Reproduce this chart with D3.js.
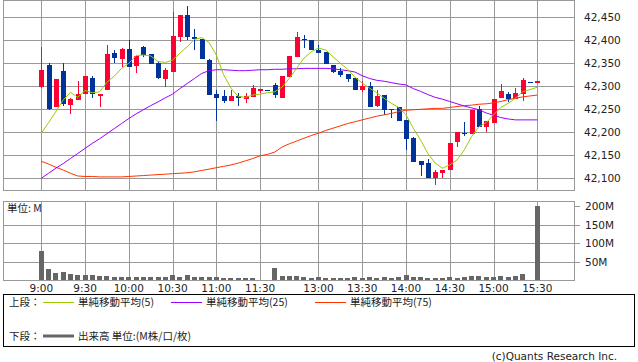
<!DOCTYPE html>
<html><head><meta charset="utf-8">
<script src="https://cdn.jsdelivr.net/npm/d3@7"></script>
<style>
html,body{margin:0;padding:0;background:#fff;}
svg{display:block;}
text{font-family:"DejaVu Sans",sans-serif;fill:#222;}
.jp{font-family:"Noto Sans CJK JP","DejaVu Sans",sans-serif;}
</style></head>
<body><svg id="c" width="638" height="362"></svg>
<script>
const times = ["9:00","9:05","9:10","9:15","9:20","9:25","9:30","9:35","9:40","9:45","9:50","9:55",
"10:00","10:05","10:10","10:15","10:20","10:25","10:30","10:35","10:40","10:45","10:50","10:55",
"11:00","11:05","11:10","11:15","11:20","11:25","11:30","12:25",
"12:30","12:35","12:40","12:45","12:50","12:55",
"13:00","13:05","13:10","13:15","13:20","13:25","13:30","13:35","13:40","13:45","13:50","13:55",
"14:00","14:05","14:10","14:15","14:20","14:25","14:30","14:35","14:40","14:45","14:50","14:55",
"15:00","15:05","15:10","15:15","15:20","15:25","15:30"];
const open = [42298,42346,42256,42333,42260,42271,42284,42317,42279,42291,42373,42359,42381,42344,42386,42370,42350,42316,42332,42408,42455,42407,42402,42357,42283,42279,42269,42278,42272,42277,42290,42293,42302,42275,42321,42364,42403,42401,42379,42375,42346,42333,42327,42318,42291,42301,42257,42281,42251,42254,42227,42188,42137,42133,42101,42112,42117,42178,42199,42197,42250,42212,42221,42275,42283,42272,42283,42310,42308];
const high = [42386,42351,42316,42351,42275,42312,42322,42322,42283,42390,42378,42383,42401,42366,42387,42370,42352,42339,42462,42455,42475,42425,42403,42359,42292,42293,42291,42286,42285,42302,42294,42293,42307,42322,42366,42418,42412,42401,42389,42375,42346,42339,42327,42318,42312,42309,42293,42281,42251,42256,42227,42190,42137,42141,42117,42117,42176,42200,42222,42249,42257,42225,42273,42305,42288,42296,42317,42310,42312];
const low = [42297,42249,42255,42257,42240,42271,42284,42275,42254,42291,42350,42343,42343,42330,42363,42349,42316,42299,42331,42397,42401,42379,42360,42282,42225,42264,42269,42257,42264,42277,42285,42293,42275,42275,42321,42364,42384,42378,42372,42348,42328,42320,42309,42292,42288,42255,42254,42237,42232,42225,42162,42135,42106,42101,42085,42100,42117,42169,42193,42197,42212,42201,42221,42275,42265,42272,42267,42310,42308];
const close = [42335,42250,42316,42262,42272,42283,42322,42283,42283,42370,42362,42381,42343,42366,42367,42349,42318,42336,42409,42455,42408,42404,42360,42282,42275,42267,42278,42274,42280,42296,42294,42293,42281,42322,42366,42407,42400,42380,42373,42348,42331,42325,42316,42292,42301,42255,42280,42249,42250,42225,42186,42136,42130,42101,42113,42117,42176,42200,42197,42249,42212,42225,42272,42290,42272,42286,42314,42310,42312];
const ma5 = [42198,42221,42245,42270,42287,42276,42291,42286,42288,42309,42322,42339,42350,42367,42368,42366,42354,42352,42357,42372,42386,42402,42406,42395,42368,42325,42296,42278,42276,42281,42283,42286,42288,42298,42317,42339,42361,42375,42383,42379,42364,42350,42337,42320,42307,42296,42286,42274,42263,42254,42238,42209,42183,42154,42133,42122,42129,42140,42162,42191,42212,42221,42238,42254,42263,42274,42288,42293,42298];
const ma25 = [42100,42111,42122,42132,42143,42154,42165,42176,42186,42197,42208,42219,42230,42240,42249,42258,42266,42275,42283,42295,42306,42317,42328,42334,42336,42336,42335,42334,42334,42335,42336,42336,42337,42337,42338,42338,42339,42339,42339,42339,42338,42336,42334,42331,42323,42317,42313,42311,42308,42305,42303,42295,42289,42282,42276,42272,42267,42262,42257,42253,42249,42242,42237,42232,42229,42227,42227,42227,42227];
const ma75 = [42137,42131,42124,42118,42111,42105,42104,42104,42103,42103,42103,42103,42104,42105,42106,42107,42108,42109,42110,42111,42112,42114,42117,42120,42123,42126,42129,42133,42138,42143,42149,42152,42157,42168,42175,42181,42187,42193,42198,42204,42209,42214,42219,42223,42227,42231,42235,42238,42241,42245,42248,42249,42250,42251,42252,42252,42254,42256,42258,42259,42261,42262,42264,42267,42271,42274,42277,42279,42281];
const volume = [78,30,19,22,16,14,14,14,11,11,8,8,8,8,8,8,8,8,14,8,14,8,8,8,8,5.5,5.5,5.5,5.5,5.5,1.5,0,32,11,11,11,8,5.5,8,5.5,5.5,5.5,5.5,8,5.5,8,5.5,8,5.5,8,14,8,8,5.5,5.5,5.5,8,5.5,8,11,11,8,8,11,8,11,18,1,200];
const timeTicks = ["9:00","9:30","10:00","10:30","11:00","11:30","13:00","13:30","14:00","14:30","15:00","15:30"];
const priceTicks = [42100,42150,42200,42250,42300,42350,42400,42450];
const volTicks = [50,100,150,200];
const legendItems = [
  {label:"単純移動平均(5)", color:"#99cc00"},
  {label:"単純移動平均(25)", color:"#9900ff"},
  {label:"単純移動平均(75)", color:"#ff3300"}
];

const svg = d3.select("#c");
const UP = "#ff0033", DOWN = "#003399", GRID = "#999999";

const x = d3.scalePoint().domain(times).range([41.3, 537.3]);
const y = d3.scaleLinear().domain([42100, 42450]).range([178.3, 17.3]);
const yv = d3.scaleLinear().domain([0, 200]).range([280.2, 206.2]);

const P = {left:3.5, right:574.5, top:0.5, bottom:190.5};
const V = {top:201.5, bottom:280.5};

// price grid
const g = svg.append("g").attr("shape-rendering","crispEdges");
g.selectAll(".hg").data(priceTicks).join("line")
  .attr("x1",P.left).attr("x2",P.right)
  .attr("y1",d=>Math.round(y(d))+0.5).attr("y2",d=>Math.round(y(d))+0.5)
  .attr("stroke",GRID);
g.selectAll(".vg").data(timeTicks).join("line")
  .attr("x1",d=>Math.round(x(d))+0.5).attr("x2",d=>Math.round(x(d))+0.5)
  .attr("y1",P.top).attr("y2",P.bottom).attr("stroke",GRID);
g.append("rect").attr("x",P.left).attr("y",P.top).attr("width",P.right-P.left).attr("height",P.bottom-P.top)
  .attr("fill","none").attr("stroke",GRID);

// volume grid
g.selectAll(".vhg").data(volTicks.filter(d=>d<200)).join("line")
  .attr("x1",P.left).attr("x2",P.right)
  .attr("y1",d=>Math.round(yv(d))+0.5).attr("y2",d=>Math.round(yv(d))+0.5)
  .attr("stroke",GRID);
g.selectAll(".vvg").data(timeTicks).join("line")
  .attr("x1",d=>Math.round(x(d))+0.5).attr("x2",d=>Math.round(x(d))+0.5)
  .attr("y1",V.top).attr("y2",V.bottom).attr("stroke",GRID);
g.selectAll(".vtk").data(volTicks).join("line")
  .attr("x1",P.right).attr("x2",P.right+5)
  .attr("y1",d=>Math.round(yv(d))+0.5).attr("y2",d=>Math.round(yv(d))+0.5)
  .attr("stroke",GRID);
g.append("rect").attr("x",P.left).attr("y",V.top).attr("width",P.right-P.left).attr("height",V.bottom-V.top)
  .attr("fill","none").attr("stroke",GRID);

// volume bars
svg.append("g").attr("shape-rendering","crispEdges").selectAll("rect").data(times).join("rect")
  .attr("x",d=>Math.round(x(d)-2.5)).attr("width",5)
  .attr("y",(d,i)=>yv(volume[i])).attr("height",(d,i)=>yv(0)-yv(volume[i]))
  .attr("fill","#666666");

// candles
const cg = svg.append("g").attr("shape-rendering","crispEdges");
const idx = d3.range(times.length);
const col = i => close[i] > open[i] ? UP : DOWN;
cg.selectAll(".wick").data(idx).join("line")
  .attr("x1",i=>Math.round(x(times[i]))+0.5).attr("x2",i=>Math.round(x(times[i]))+0.5)
  .attr("y1",i=>y(high[i])).attr("y2",i=>y(low[i])).attr("stroke",col);
cg.selectAll(".body").data(idx).join("rect")
  .attr("x",i=>Math.round(x(times[i]))-2).attr("width",5)
  .attr("y",i=>y(Math.max(open[i],close[i])))
  .attr("height",i=>Math.max(1.5, Math.abs(y(open[i])-y(close[i]))))
  .attr("fill",col);

// moving averages
const line = arr => d3.line().x((d,i)=>x(times[i])).y(d=>y(d))(arr);
[[ma75,"#ff3300"],[ma25,"#9900ff"],[ma5,"#99cc00"]].forEach(([arr,c])=>{
  svg.append("path").attr("d",line(arr)).attr("fill","none").attr("stroke",c).attr("stroke-width",1);
});

// axis labels
svg.selectAll(".pl").data(priceTicks).join("text")
  .attr("x",584).attr("y",d=>y(d)+4).attr("font-size","10.5px").text(d3.format(","));
svg.selectAll(".vl").data(volTicks).join("text")
  .attr("x",585).attr("y",d=>yv(d)+4).attr("font-size","10.5px").text(d=>d+"M");
svg.selectAll(".tl").data(timeTicks).join("text")
  .attr("x",d=>x(d)).attr("y",292).attr("text-anchor","middle").attr("font-size","10.5px").text(d=>d);
svg.append("text").attr("class","jp").attr("x",7).attr("y",212).attr("font-size","10.5px").text("単位: M");

// legend
svg.append("rect").attr("x",3.5).attr("y",294.5).attr("width",631).attr("height",52)
  .attr("fill","none").attr("stroke","#000").attr("shape-rendering","crispEdges");
svg.append("text").attr("class","jp").attr("x",9).attr("y",306).attr("font-size","10.5px").text("上段：");
const lx = [43, 171, 315];
legendItems.forEach((d,i)=>{
  svg.append("line").attr("x1",lx[i]).attr("x2",lx[i]+31).attr("y1",302.5).attr("y2",302.5)
    .attr("stroke",d.color).attr("stroke-width",1);
  svg.append("text").attr("class","jp").attr("x",lx[i]+35).attr("y",306).attr("font-size","10.5px").text(d.label);
});
svg.append("text").attr("class","jp").attr("x",9).attr("y",340).attr("font-size","10.5px").text("下段：");
svg.append("line").attr("x1",43).attr("x2",74).attr("y1",336).attr("y2",336).attr("stroke","#666").attr("stroke-width",3);
svg.append("text").attr("class","jp").attr("x",78).attr("y",340).attr("font-size","10.5px").text("出来高 単位:(M株/口/枚)");
svg.append("text").attr("x",617).attr("y",360).attr("text-anchor","end").attr("font-size","10.5px").attr("fill","#444").text("(c)Quants Research Inc.");
</script></body></html>
